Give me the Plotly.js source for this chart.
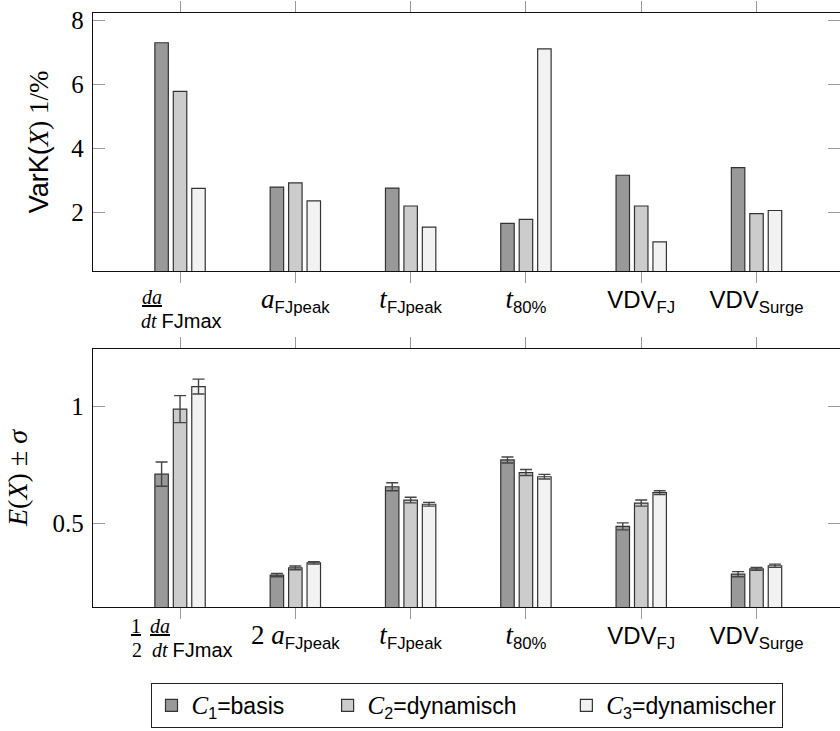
<!DOCTYPE html>
<html>
<head>
<meta charset="utf-8">
<script src="https://cdn.plot.ly/plotly-3.0.1.min.js"></script>
<style>html,body{margin:0;padding:0;background:#fff;overflow:hidden}</style>
</head>
<body>
<div id="chart" style="width:840px;height:731px"></div>
<script>
// ---- data ----
var categories = ['dadt', 'aFJpeak', 'tFJpeak', 't80', 'VDVFJ', 'VDVSurge'];
var seriesNames = [
  '<span style="font-family:Liberation Serif;font-size:25px"><i>C</i></span><sub>1</sub>=basis\u00a0\u00a0\u00a0\u00a0\u00a0\u00a0',
  '<span style="font-family:Liberation Serif;font-size:25px"><i>C</i></span><sub>2</sub>=dynamisch\u00a0\u00a0\u00a0\u00a0\u00a0\u00a0\u00a0',
  '<span style="font-family:Liberation Serif;font-size:25px"><i>C</i></span><sub>3</sub>=dynamischer'
];

// top: VarK(X) in 1/%
var varC1 = [7.29, 2.78, 2.75, 1.65, 3.15, 3.39];
var varC2 = [5.77, 2.91, 2.19, 1.77, 2.19, 1.95];
var varC3 = [2.74, 2.35, 1.53, 7.10, 1.07, 2.05];

// bottom: E(X) and sigma
var meanC1 = [0.710, 0.277, 0.656, 0.771, 0.486, 0.281];
var meanC2 = [0.989, 0.308, 0.599, 0.717, 0.586, 0.304];
var meanC3 = [1.086, 0.329, 0.581, 0.699, 0.631, 0.317];
var sdC1 = [0.052, 0.007, 0.017, 0.013, 0.015, 0.011];
var sdC2 = [0.058, 0.008, 0.012, 0.013, 0.013, 0.006];
var sdC3 = [0.032, 0.005, 0.008, 0.010, 0.008, 0.007];

var M = '<span style="font-family:Liberation Serif;font-size:27px">';
var topTickText = [
  '',
  M + '<i>a</i></span><sub>FJpeak</sub>',
  M + '<i>t</i></span><sub>FJpeak</sub>',
  M + '<i>t</i></span><sub>80%</sub>',
  'VDV<sub>FJ</sub>',
  'VDV<sub>Surge</sub>'
];
var bottomTickText = [
  '',
  M + '2 <i>a</i></span><sub>FJpeak</sub>',
  M + '<i>t</i></span><sub>FJpeak</sub>',
  M + '<i>t</i></span><sub>80%</sub>',
  'VDV<sub>FJ</sub>',
  'VDV<sub>Surge</sub>'
];
// fraction-style first tick labels (numerator / denominator parts)
var topFracNum = ['<u><i>da</i></u>'];
var topFracDen = ['<i>dt</i> <span style="font-family:Liberation Sans;font-size:20px">FJmax</span>'];
var botFracNum = ['<u>1</u>', '<u><i>da</i></u>'];
var botFracDen = ['2 \u00a0<i>dt</i> <span style="font-family:Liberation Sans;font-size:20px">FJmax</span>'];

var yTopTicks = [2, 4, 6, 8];
var yTopTickText = ['2', '4', '6', '8'];
var yBotTicks = [0.5, 1];
var yBotTickText = ['0.5', '1'];

// ---- styles ----
var fills = ['#999999', '#cccccc', '#f2f2f2'];
var edge = '#333333';
var varData = [varC1, varC2, varC3];
var meanData = [meanC1, meanC2, meanC3];
var sdData = [sdC1, sdC2, sdC3];

var traces = [];
for (var i = 0; i < 3; i++) {
  traces.push({
    type: 'bar', x: categories, y: varData[i], name: seriesNames[i],
    xaxis: 'x', yaxis: 'y', legendgroup: 'g' + i, showlegend: true,
    marker: {color: fills[i], line: {color: edge, width: 1.2}}
  });
}
for (var j = 0; j < 3; j++) {
  traces.push({
    type: 'bar', x: categories, y: meanData[j], name: seriesNames[j],
    xaxis: 'x2', yaxis: 'y2', legendgroup: 'g' + j, showlegend: false,
    marker: {color: fills[j], line: {color: edge, width: 1.2}},
    error_y: {type: 'data', array: sdData[j], visible: true, color: '#444', thickness: 1.4, width: 6}
  });
}

var xCommon = {
  type: 'category', range: [-0.755, 5.724], tickmode: 'array', tickvals: categories,
  showline: true, linecolor: '#111', linewidth: 1.2, mirror: 'ticks',
  ticks: 'outside', ticklen: 11, tickcolor: '#999', tickwidth: 1,
  showgrid: false, zeroline: false, ticklabelstandoff: -4,
  tickfont: {family: 'Liberation Sans', size: 24, color: '#000'}
};
var yCommon = {
  showline: true, linecolor: '#111', linewidth: 1.2, mirror: 'ticks',
  ticks: 'inside', ticklen: 12, tickcolor: '#999', tickwidth: 1,
  showgrid: false, zeroline: false, tickmode: 'array',
  tickfont: {family: 'Liberation Serif', size: 25, color: '#000'},
  ticklabelstandoff: 3
};

// paper-y helper from pixel row (plot area spans rows 13..607)
function py(row) { return (607 - row) / 594; }
var serifFont = {family: 'Liberation Serif', size: 20, color: '#000'};
var annotations = [
  {xref: 'x', yref: 'paper', x: 0, y: py(297), xshift: -28, text: topFracNum[0], showarrow: false, font: serifFont, xanchor: 'center', yanchor: 'middle'},
  {xref: 'x', yref: 'paper', x: 0, y: py(321), xshift: -41, text: topFracDen[0], showarrow: false, font: serifFont, xanchor: 'left', yanchor: 'middle'},
  {xref: 'x2', yref: 'paper', x: 0, y: py(626), xshift: -44, text: botFracNum[0], showarrow: false, font: serifFont, xanchor: 'center', yanchor: 'middle'},
  {xref: 'x2', yref: 'paper', x: 0, y: py(626), xshift: -20, text: botFracNum[1], showarrow: false, font: serifFont, xanchor: 'center', yanchor: 'middle'},
  {xref: 'x2', yref: 'paper', x: 0, y: py(650), xshift: -50, text: botFracDen[0], showarrow: false, font: serifFont, xanchor: 'left', yanchor: 'middle'}
];

var layout = {
  width: 840, height: 731,
  margin: {l: 93, r: 0, t: 13, b: 124},
  paper_bgcolor: '#fff', plot_bgcolor: '#fff',
  barmode: 'group', bargap: 0.52, bargroupgap: 0.27,
  font: {family: 'Liberation Sans', color: '#000'},
  xaxis: Object.assign({}, xCommon, {anchor: 'y', ticktext: topTickText}),
  xaxis2: Object.assign({}, xCommon, {anchor: 'y2', ticktext: bottomTickText}),
  yaxis: Object.assign({}, yCommon, {
    domain: [0.5657, 1], range: [0.16, 8.22], tickvals: yTopTicks, ticktext: yTopTickText,
    title: {text: 'VarK(<span style="font-family:Liberation Serif"><i>X</i>) 1/%</span>', font: {family: 'Liberation Sans', size: 27}, standoff: 14}
  }),
  yaxis2: Object.assign({}, yCommon, {
    domain: [0, 0.4343], range: [0.14, 1.247], tickvals: yBotTicks, ticktext: yBotTickText,
    title: {text: '<i>E</i>(<i>X</i>) ± <i>σ</i>', font: {family: 'Liberation Serif', size: 28}, standoff: 16}
  }),
  annotations: annotations,
  legend: {
    orientation: 'h', x: 0.5, xanchor: 'center', y: py(683), yanchor: 'top',
    bordercolor: '#222', borderwidth: 1, bgcolor: '#fff',
    font: {family: 'Liberation Sans', size: 23, color: '#000'},
    traceorder: 'normal'
  },
  showlegend: true
};

Plotly.newPlot('chart', traces, layout, {staticPlot: true, displayModeBar: false});
</script>
</body>
</html>
